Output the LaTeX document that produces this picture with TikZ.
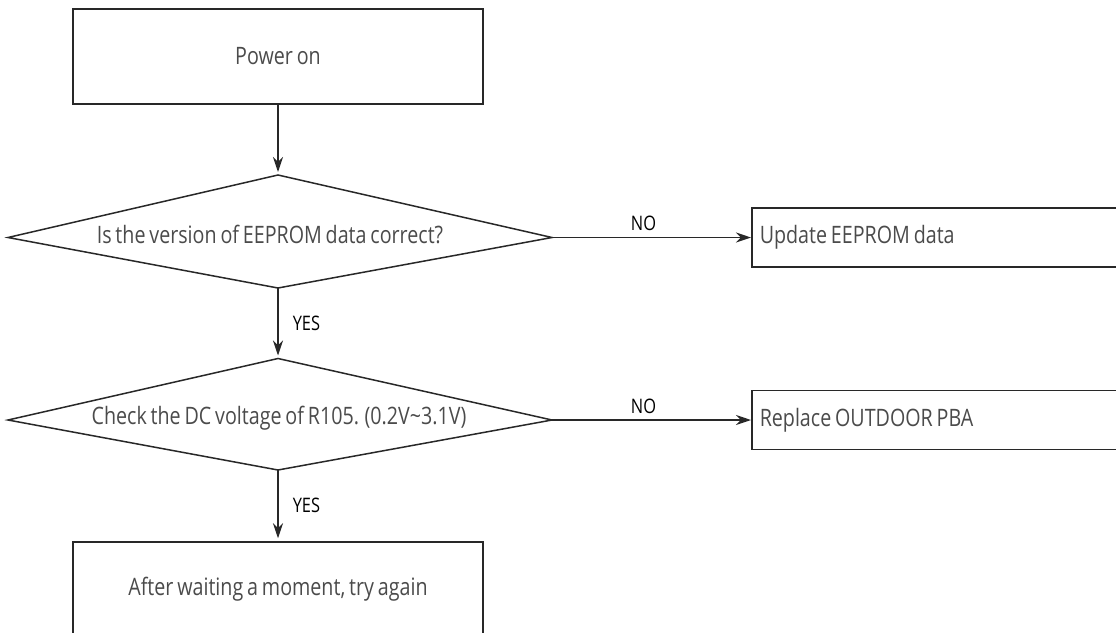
\documentclass[tikz,border=0pt]{standalone}
\usepackage{fontspec}
\newfontfamily\flowfont[FakeStretch=0.82, WordSpace=0.75]{Open Sans}
\usetikzlibrary{arrows.meta, positioning}
\definecolor{linegray}{RGB}{40, 40, 40}
\definecolor{textgray}{RGB}{75, 75, 75}
\tikzset{
  procbox/.style={draw=linegray, line width=0.75pt, minimum width=205pt, minimum height=47.5pt, inner sep=0pt,
    font=\flowfont\fontsize{12}{14}\selectfont, text=textgray},
  endbox/.style={procbox, minimum width=0pt, minimum height=29.5pt, text width=200pt, align=left, inner xsep=4pt,
    execute at begin node={\spaceskip=0pt\xspaceskip=0pt}},
  decision/.style={draw=linegray, line width=0.75pt},
  qtext/.style={font=\flowfont\fontsize{12}{14}\selectfont, text=textgray, inner sep=0pt},
  yesno/.style={font=\flowfont\fontsize{10}{12}\selectfont, text=black, inner sep=0pt},
  flowarrow/.style={-{Stealth[length=7.5pt, width=5pt, inset=2.5pt]}, draw=linegray, line width=0.75pt},
}
\begin{document}
\begin{tikzpicture}[x=0.5pt, y=-0.5pt]
  \path[use as bounding box, clip] (0,0) rectangle (1116,633);
  \node[procbox] (power) at (278,56.5) {Power on};
  % first check
  \coordinate (d1n) at (278,175);
  \coordinate (d1e) at (552,237.5);
  \coordinate (d1s) at (278,288);
  \coordinate (d1w) at (8,237.5);
  \draw[decision] (d1n) -- (d1e) -- (d1s) -- (d1w) -- cycle;
  \node[qtext] (q1) at (270,234) {Is the version of EEPROM data correct?};
  \node[endbox, anchor=west] (upd) at (751,237.5) {Update EEPROM data};
  % second check
  \coordinate (d2n) at (278,358.5);
  \coordinate (d2e) at (552,420);
  \coordinate (d2s) at (278,470);
  \coordinate (d2w) at (8,420);
  \draw[decision] (d2n) -- (d2e) -- (d2s) -- (d2w) -- cycle;
  \node[qtext] (q2) at (279,418) {Check the DC voltage of R105. (0.2V\textasciitilde3.1V)};
  \node[endbox, anchor=west] (repl) at (751,420) {Replace OUTDOOR PBA};
  \node[procbox] (retry) at (278,589.5) {After waiting a moment, try again};
  % connectors
  \draw[flowarrow, shorten >=1.5pt] (power) -- (d1n);
  \draw[flowarrow] (d1e) -- node[yesno, above=3pt, pos=0.46] {NO} (upd);
  \draw[flowarrow, shorten >=1.5pt] (d1s) -- node[yesno, right=7pt] {YES} (d2n);
  \draw[flowarrow] (d2e) -- node[yesno, above=3pt, pos=0.46] {NO} (repl);
  \draw[flowarrow, shorten >=1.5pt] (d2s) -- node[yesno, right=7pt] {YES} (retry);
\end{tikzpicture}
\end{document}
